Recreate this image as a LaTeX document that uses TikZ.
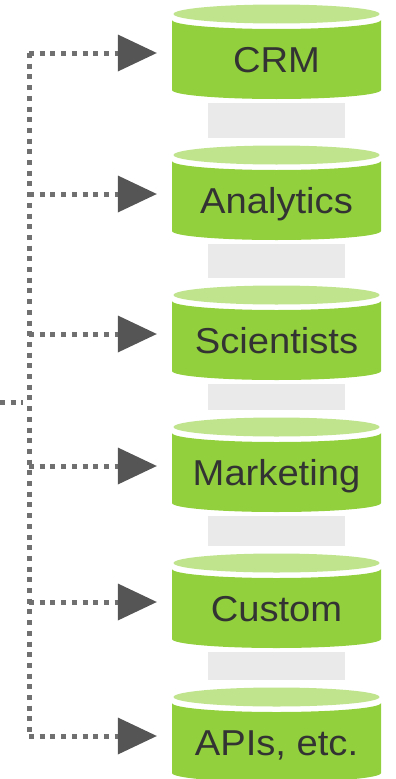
\documentclass[tikz,border=0pt]{standalone}
\usepackage{fontspec}
\setmainfont[FakeStretch=1.06]{Liberation Sans}
\usetikzlibrary{arrows.meta}
\usetikzlibrary{positioning}
\definecolor{dbgreen}{RGB}{146,208,61}
\definecolor{dblight}{RGB}{192,228,142}
\definecolor{gapgray}{RGB}{234,234,234}
\definecolor{dotgray}{RGB}{112,112,112}
\definecolor{tipgray}{RGB}{85,85,85}
\definecolor{dbtext}{RGB}{51,51,51}

\begin{document}
\begin{tikzpicture}[x=1pt,y=-1pt]
		\tikzset{db/.style = {fill=dbgreen}}
		\tikzset{dbtop/.style = {fill=dblight}}
		\tikzset{gap/.style = {fill=gapgray}}
		\tikzset{dbname/.style = {minimum width=209pt,minimum height=70pt,inner sep=0pt,text=dbtext,text height=26pt,text depth=0pt,font=\fontsize{36}{40}\selectfont}}
		\tikzset{dots/.style = {draw=dotgray,line width=5pt,dash pattern=on 5pt off 5.7pt}}
		\tikzset{link/.style = {dots,-{Triangle[length=39pt,width=37pt,color=tipgray,line width=0pt]},shorten >=15pt}}
		\useasboundingbox (0,0) rectangle (396,779);
		% gaps between stores
		\foreach \a/\b in {4/145,145/285,285/417,417/553,553/687}
		\fill[gap] (208,\a+99) rectangle (345,\b-7);
		% stores
		\foreach \t/\n/\s in {4/crm/CRM,145/ana/Analytics,285/sci/Scientists,417/mkt/Marketing,553/cus/Custom,687/api/{APIs, etc.}}{
			\fill[db] (172,\t+16) -- (172,\t+86) arc[start angle=180,end angle=0,x radius=104.5,y radius=9] -- (381,\t+16) arc[start angle=0,end angle=180,x radius=104.5,y radius=9] -- cycle;
			\fill[dbtop] (276.5,\t+10) ellipse[x radius=103,y radius=9.5];
			\node[dbname] (\n) at (276.5,\t+55) {\s};
			\coordinate (b\n) at (29,\t+49);
		}
		
		%edges
		\coordinate (in) at (0,402);
		\coordinate (j) at (23,402);
		\draw[dots] (in) -- (j);
		\draw[dots] (bcrm) -- (bapi);
		\foreach \n in {crm,ana,sci,mkt,cus,api}
		\draw[link] (b\n) -- (b\n -| \n.west);
		
\end{tikzpicture}
\end{document}
